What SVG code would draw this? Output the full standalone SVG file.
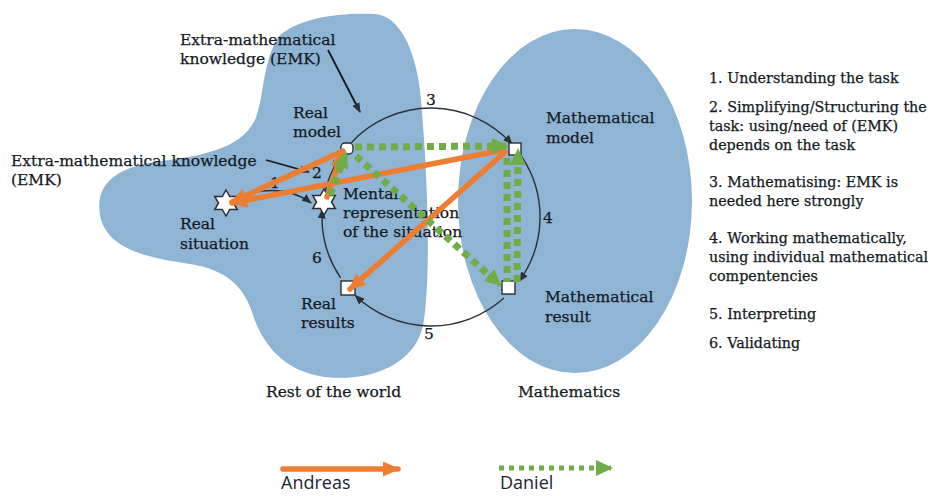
<svg xmlns="http://www.w3.org/2000/svg" xmlns:xlink="http://www.w3.org/1999/xlink" width="931" height="496" viewBox="0 0 931 496">
<style>
.lbl{font-family:"DejaVu Serif","Liberation Serif",serif;font-size:15.5px;fill:#141a22;stroke:#141a22;stroke-width:0.25}
.lst{font-family:"DejaVu Serif","Liberation Serif",serif;font-size:14.3px;fill:#141a22;stroke:#141a22;stroke-width:0.25}
.leg{font-family:"Open Sans","Noto Sans",sans-serif;font-size:18px;fill:#1e2630}
.region{fill:#8fb4d4;stroke:none}
.cyc{fill:none;stroke:#2b2f36;stroke-width:1.4}
.emk{fill:none;stroke:#14181e;stroke-width:1.8}
.or{fill:none;stroke:#ed7d31;stroke-width:5.5;stroke-linecap:round}
.gr{fill:none;stroke:#70ad47;stroke-width:7;stroke-dasharray:7 5}
.node{fill:#fff;stroke:#2b2f36;stroke-width:1.4}
</style>
<defs>
<marker id="aK" viewBox="0 0 10 8" refX="9" refY="4" markerWidth="10" markerHeight="8" markerUnits="userSpaceOnUse" orient="auto"><path d="M0,0 L10,4 L0,8 Z" fill="#2b2f36"/></marker>
<marker id="aO" viewBox="0 0 17 15" refX="15" refY="7.5" markerWidth="17" markerHeight="15" markerUnits="userSpaceOnUse" orient="auto"><path d="M0,0 L17,7.5 L0,15 Z" fill="#ed7d31"/></marker>
<marker id="aG" viewBox="0 0 17 16" refX="15" refY="8" markerWidth="17" markerHeight="16" markerUnits="userSpaceOnUse" orient="auto"><path d="M0,0 L17,8 L0,16 Z" fill="#70ad47"/></marker>
<polygon id="star" points="0,-13 3.75,-6.5 11.26,-6.5 7.5,0 11.26,6.5 3.75,6.5 0,13 -3.75,6.5 -11.26,6.5 -7.5,0 -11.26,-6.5 -3.75,-6.5" fill="#fff" stroke="#2b2f36" stroke-width="1.5" stroke-linejoin="miter"/>
</defs>

<g id="rest-of-world">
<path class="region" d="M 375,14 C 400,16 415,50 420,90 C 426,150 432,260 424,320 C 418,365 370,382 325,377 C 285,372 262,345 252,312 C 244,288 228,270 190,264 C 150,258 106,250 100,215 C 95,185 115,168 155,162 C 200,156 240,150 255,120 C 265,95 262,60 280,35 C 300,18 340,12 375,14 Z"/>
<text class="lbl" x="266" y="397">Rest of the world</text>
</g>
<g id="mathematics">
<ellipse class="region" cx="575" cy="201" rx="117" ry="172"/>
<text class="lbl" x="518" y="397">Mathematics</text>
</g>

<g id="cycle">
<path class="cyc" d="M 351.3,142.7 A 109 109 0 0 1 512,144.1" marker-end="url(#aK)"/>
<path class="cyc" d="M 521.4,156.1 A 109 109 0 0 1 519.2,281.1" marker-end="url(#aK)"/>
<path class="cyc" d="M 503.9,298 A 109 109 0 0 1 355.3,295.4" marker-end="url(#aK)"/>
<path class="cyc" d="M 340.6,277.9 A 109 109 0 0 1 322.3,209.4" marker-end="url(#aK)"/>
<path class="cyc" d="M 324.4,194.3 A 109 109 0 0 1 340.6,156.1" marker-end="url(#aK)"/>
<path class="cyc" d="M 242,195 Q 285,183 311,203" marker-end="url(#aK)"/>
<text class="lbl" x="426" y="105">3</text>
<text class="lbl" x="543" y="223">4</text>
<text class="lbl" x="424" y="339">5</text>
<text class="lbl" x="312" y="263">6</text>
<text class="lbl" x="312" y="178">2</text>
<text class="lbl" x="270" y="188">1</text>
</g>

<g id="emk-arrows">
<path class="emk" d="M 328,50 L 360,112" marker-end="url(#aK)"/>
<path class="emk" d="M 266,160 L 309,172" marker-end="url(#aK)"/>
<text class="lbl" x="180" y="45">Extra-mathematical</text>
<text class="lbl" x="180" y="64">knowledge (EMK)</text>
<text class="lbl" x="11" y="166">Extra-mathematical knowledge</text>
<text class="lbl" x="11" y="185">(EMK)</text>
</g>

<g id="real-situation">
<use xlink:href="#star" x="226" y="203"/>
<text class="lbl" x="180" y="229">Real</text>
<text class="lbl" x="180" y="249">situation</text>
</g>
<g id="mental-representation">
<use xlink:href="#star" x="324" y="202"/>
<text class="lbl" x="343" y="199">Mental</text>
<text class="lbl" x="343" y="218">representation</text>
<text class="lbl" x="343" y="237">of the situation</text>
</g>
<g id="real-model">
<rect class="node" x="341" y="143" width="12" height="11" rx="4"/>
<text class="lbl" x="293" y="118">Real</text>
<text class="lbl" x="293" y="137">model</text>
</g>
<g id="mathematical-model">
<rect class="node" x="509" y="143" width="12" height="12"/>
<text class="lbl" x="546" y="123">Mathematical</text>
<text class="lbl" x="546" y="143">model</text>
</g>
<g id="mathematical-result">
<rect class="node" x="502" y="281" width="13" height="13"/>
<text class="lbl" x="545" y="302">Mathematical</text>
<text class="lbl" x="545" y="322">result</text>
</g>
<g id="real-results">
<rect class="node" x="341" y="281" width="14" height="14"/>
<text class="lbl" x="301" y="309">Real</text>
<text class="lbl" x="301" y="328">results</text>
</g>

<g id="connectors">
<path class="or" d="M 343,151 L 232,202" marker-end="url(#aO)"/>
<path class="or" d="M 503,150 L 232,203" marker-end="url(#aO)"/>
<path class="or" d="M 327,197 L 342,153" marker-end="url(#aO)"/>
<path class="or" d="M 505,152 L 350,289" marker-end="url(#aO)"/>
<path class="gr" d="M 355,147 L 507,146" marker-end="url(#aG)"/>
<path class="gr" d="M 507,158 L 507,282"/>
<path class="gr" d="M 517,282 L 518,150" marker-end="url(#aG)"/>
<path class="gr" d="M 356,156 L 500,285" marker-end="url(#aG)"/>
<path class="gr" d="M 330,195 L 346,153" marker-end="url(#aG)"/>
</g>

<g id="steps">
<text class="lst" x="709" y="83">1. Understanding the task</text>
<text class="lst" x="709" y="112">2. Simplifying/Structuring the</text>
<text class="lst" x="709" y="131">task: using/need of (EMK)</text>
<text class="lst" x="709" y="150">depends on the task</text>
<text class="lst" x="709" y="187">3. Mathematising: EMK is</text>
<text class="lst" x="709" y="206">needed here strongly</text>
<text class="lst" x="709" y="243">4. Working mathematically,</text>
<text class="lst" x="709" y="262">using individual mathematical</text>
<text class="lst" x="709" y="281">compentencies</text>
<text class="lst" x="709" y="319">5. Interpreting</text>
<text class="lst" x="709" y="348">6. Validating</text>
</g>

<g id="legend">
<path class="or" d="M 283,469 L 398,469" stroke-linecap="butt" marker-end="url(#aO)"/>
<text class="leg" x="281" y="489">Andreas</text>
<path d="M 499,468 L 611,468" fill="none" stroke="#70ad47" stroke-width="5" stroke-dasharray="5 5" marker-end="url(#aG)"/>
<text class="leg" x="500" y="489">Daniel</text>
</g>
</svg>
